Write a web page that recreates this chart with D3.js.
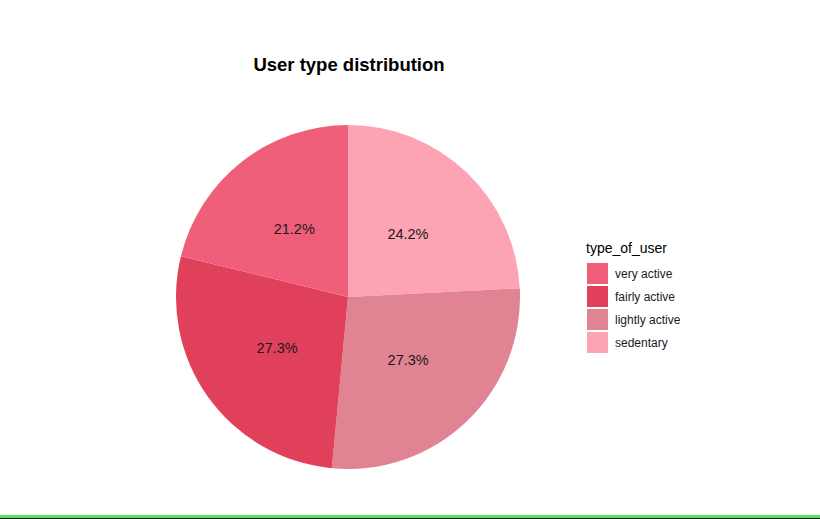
<!DOCTYPE html>
<html><head><meta charset="utf-8">
<script src="https://cdn.jsdelivr.net/npm/d3@7"></script>
<style>body{margin:0;background:#fff}svg{display:block}</style>
</head><body>
<svg id="c" width="820" height="519"></svg>
<script>
const categories = ["very active", "fairly active", "lightly active", "sedentary"];
const values = [21.2, 27.3, 27.3, 24.2];
const labels = ["21.2%", "27.3%", "27.3%", "24.2%"];
const colors = ["#f05f7a", "#e0405a", "#e08494", "#fda4b4"];
const title = "User type distribution";
const legendTitle = "type_of_user";

const svg = d3.select("#c");
const cx = 348, cy = 297, R = 172;
const font = "Liberation Sans, Arial, Helvetica, sans-serif";

// ggplot coord_polar order: sedentary clockwise from top, very active last
const order = [3, 2, 1, 0];
const pie = d3.pie().sort(null).value(i => values[i]);
const arcs = pie(order);
const arc = d3.arc().innerRadius(0).outerRadius(R);
const labelArc = d3.arc().innerRadius(87).outerRadius(87);
const g = svg.append("g").attr("transform", `translate(${cx},${cy})`);
g.selectAll("path").data(arcs).join("path")
  .attr("d", arc).attr("fill", d => colors[d.data]);
g.selectAll("text").data(arcs).join("text")
  .attr("transform", d => `translate(${labelArc.centroid(d)})`)
  .attr("text-anchor", "middle").attr("dy", "0.35em")
  .attr("font-family", font).attr("font-size", 14.5).attr("fill", "#1a1a1a")
  .text(d => labels[d.data]);

svg.append("text").attr("x", 349).attr("y", 71).attr("text-anchor", "middle")
  .attr("font-family", font).attr("font-weight", "bold").attr("font-size", 18.5)
  .attr("fill", "#000").text(title);

const lg = svg.append("g").attr("transform", "translate(586,0)");
lg.append("text").attr("x", 0).attr("y", 253).attr("font-family", font)
  .attr("font-size", 14).attr("fill", "#000").text(legendTitle);
const y = d3.scaleBand().domain(categories).range([262, 354]);
lg.selectAll("rect").data(categories).join("rect")
  .attr("x", 1).attr("y", d => y(d) + 1).attr("width", 21).attr("height", y.bandwidth() - 2)
  .attr("fill", (d, i) => colors[i]);
lg.selectAll("text.k").data(categories).join("text").attr("class", "k")
  .attr("x", 29).attr("y", d => y(d) + y.bandwidth() / 2).attr("dy", "0.35em")
  .attr("font-family", font).attr("font-size", 12).attr("fill", "#1a1a1a").text(d => d);

svg.append("rect").attr("x", 0).attr("y", 515).attr("width", 820).attr("height", 3).attr("fill", "#5fe05f");
svg.append("rect").attr("x", 0).attr("y", 518).attr("width", 820).attr("height", 1).attr("fill", "#0a2a0a");
</script>
</body></html>
